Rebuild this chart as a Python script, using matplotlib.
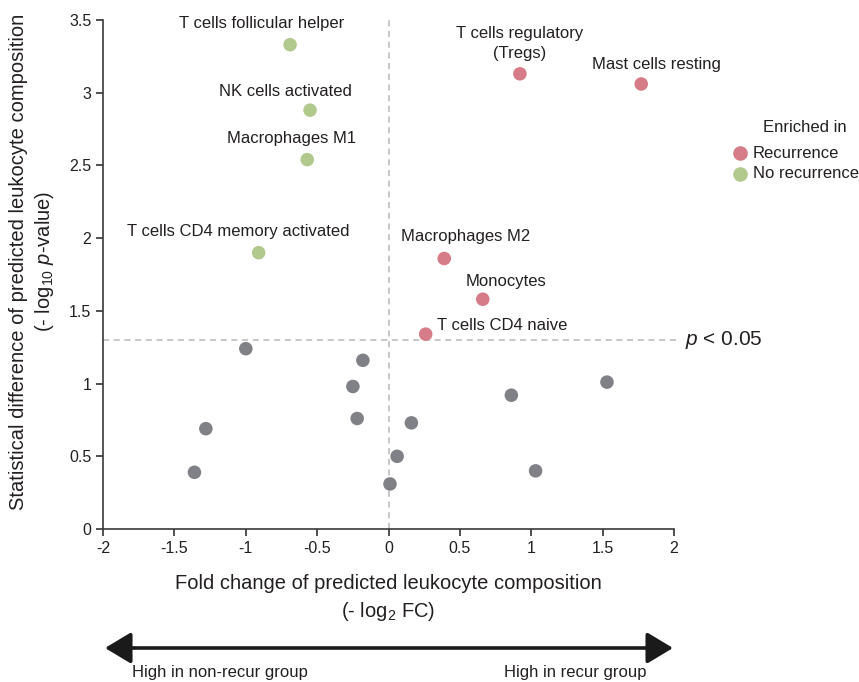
import matplotlib
matplotlib.use('Agg')
import matplotlib.pyplot as plt
from matplotlib.lines import Line2D
from matplotlib.patches import FancyArrowPatch

plt.rcParams['font.family'] = ['Liberation Sans', 'DejaVu Sans']
plt.rcParams['axes.unicode_minus'] = False
plt.rcParams['mathtext.fontset'] = 'custom'
plt.rcParams['mathtext.rm'] = 'Liberation Sans'
plt.rcParams['mathtext.it'] = 'Liberation Sans:italic'

# enriched cell types (labelled)
cell_names = ['T cells follicular helper', 'NK cells activated', 'Macrophages M1',
              'T cells CD4 memory activated', 'T cells regulatory\n(Tregs)',
              'Mast cells resting', 'Macrophages M2', 'Monocytes', 'T cells CD4 naive']
cell_fc = [-0.69, -0.55, -0.57, -0.91, 0.92, 1.77, 0.39, 0.66, 0.26]
cell_logp = [3.33, 2.88, 2.54, 1.90, 3.13, 3.06, 1.86, 1.58, 1.34]
cell_group = ['No recurrence', 'No recurrence', 'No recurrence', 'No recurrence',
              'Recurrence', 'Recurrence', 'Recurrence', 'Recurrence', 'Recurrence']

# non-significant cell types
ns_fc = [-1.00, -0.18, -0.25, -0.22, -1.28, -1.36, 0.06, 0.01, 0.16, 0.86, 1.53, 1.03]
ns_logp = [1.24, 1.16, 0.98, 0.76, 0.69, 0.39, 0.50, 0.31, 0.73, 0.92, 1.01, 0.40]

threshold = 1.301  # -log10(0.05)
groups = ['Recurrence', 'No recurrence']

colors = {'Recurrence': '#d67c88', 'No recurrence': '#b2c98e'}
grey = '#808087'
txt = '#231f20'

# label offsets in pixels (dx, dy) and alignment
label_pos = [(-28, 21, 'center'), (-25, 19, 'center'), (-16, 21, 'center'),
             (-20, 21, 'center'), (0, 30, 'center'), (15, 19, 'center'),
             (21, 22, 'center'), (23, 18, 'center'), (11, 9, 'left')]

fig = plt.figure(figsize=(8.59, 6.82), dpi=100)
ax = fig.add_axes([0.12, 0.2243, 0.6647, 0.7464])

ax.plot([0, 0], [0, 3.5], ls=(0, (4, 3)), color='#b8b8b8', lw=1.1, zorder=1)
ax.plot([-2, 2.04], [threshold, threshold], ls=(0, (4, 3)), color='#b8b8b8',
        lw=1.1, zorder=1, clip_on=False)

ax.scatter(ns_fc, ns_logp, s=95, color=grey, edgecolors='none', zorder=3)
for grp in groups:
    xs = [x for x, g in zip(cell_fc, cell_group) if g == grp]
    ys = [y for y, g in zip(cell_logp, cell_group) if g == grp]
    ax.scatter(xs, ys, s=95, color=colors[grp], edgecolors='none', zorder=3)

for name, x, y, (dx, dy, ha) in zip(cell_names, cell_fc, cell_logp, label_pos):
    ax.annotate(name, (x, y), xytext=(dx, dy), textcoords='offset pixels',
                ha=ha, va='center', fontsize=12, color=txt, linespacing=1.4)

ax.text(2.08, threshold, '$p$ < 0.05', fontsize=15, color=txt, va='center')

ax.set_xlim(-2, 2)
ax.set_ylim(0, 3.5)
ax.set_xticks([-2, -1.5, -1, -0.5, 0, 0.5, 1, 1.5, 2])
ax.set_xticklabels(['-2', '-1.5', '-1', '-0.5', '0', '0.5', '1', '1.5', '2'])
ax.set_yticks([0, 0.5, 1, 1.5, 2, 2.5, 3, 3.5])
ax.set_yticklabels(['0', '0.5', '1', '1.5', '2', '2.5', '3', '3.5'])
ax.tick_params(labelsize=11.5, colors=txt, length=5, width=1.1, direction='out')
for s in ['top', 'right']:
    ax.spines[s].set_visible(False)
for s in ['left', 'bottom']:
    ax.spines[s].set_color('#3a3a3a')
    ax.spines[s].set_linewidth(1.2)

ax.set_xlabel('Fold change of predicted leukocyte composition\n(- log$_{2}$ FC)',
              fontsize=14.5, color=txt, labelpad=13, linespacing=1.4)
ax.set_ylabel('Statistical difference of predicted leukocyte composition\n(- log$_{10}$ $p$-value)',
              fontsize=14.5, color=txt, linespacing=1.25)
ax.yaxis.set_label_coords(-0.083, 0.525)

# legend drawn by hand to match spacing
fig.text(805 / 859, 1 - 127 / 682, 'Enriched in', ha='center', va='center',
         fontsize=12, color=txt)
for i, grp in enumerate(groups):
    yy = 1 - (153 + 20.5 * i) / 682
    fig.add_artist(Line2D([740 / 859], [yy], marker='o', markersize=10.5,
                          markerfacecolor=colors[grp], markeredgecolor='none',
                          transform=fig.transFigure))
    fig.text(753 / 859, yy, grp, ha='left', va='center', fontsize=12, color=txt)

# direction arrow below the axis
fig.add_artist(FancyArrowPatch(
    (105 / 859, 1 - 648 / 682), (673 / 859, 1 - 648 / 682), transform=fig.transFigure,
    arrowstyle='<|-|>,head_length=0.8,head_width=0.48', mutation_scale=20,
    lw=2.6, color='#1a1a1a', shrinkA=0, shrinkB=0))
fig.text(220 / 859, 1 - 672 / 682, 'High in non-recur group', ha='center', va='center',
         fontsize=12, color=txt)
fig.text(575 / 859, 1 - 672 / 682, 'High in recur group', ha='center', va='center',
         fontsize=12, color=txt)

fig.savefig('out.png', dpi=100)
